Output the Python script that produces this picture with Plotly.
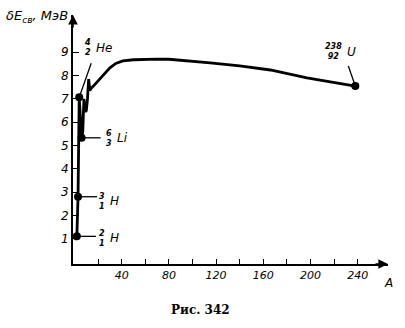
import plotly.graph_objects as go

# ---- data ----
A_curve = [2, 3, 4, 5, 6, 7, 8, 9, 10, 11, 12, 13, 14, 16, 20, 26, 30, 35, 41, 50, 60, 70, 80, 100, 115, 140, 166, 197, 220, 238]
E_curve = [1.1, 2.8, 7.07, 6.0, 5.33, 5.6, 7.0, 6.45, 6.5, 7.0, 7.85, 7.35, 7.45, 7.55, 7.78, 8.1, 8.33, 8.52, 8.63, 8.68, 8.71, 8.71, 8.7, 8.63, 8.55, 8.42, 8.24, 7.9, 7.72, 7.55]

nuc_A = [2, 3, 4, 6, 238]
nuc_E = [1.1, 2.8, 7.07, 5.33, 7.55]
nuc_mass = ["2", "3", "4", "6", "238"]
nuc_charge = ["1", "1", "2", "3", "92"]
nuc_sym = ["H", "H", "He", "Li", "U"]

x_ticks = [20, 40, 60, 80, 100, 120, 140, 160, 180, 200, 220, 240]
x_labels = ["", "40", "", "80", "", "120", "", "160", "", "200", "", "240"]
y_ticks = [1, 2, 3, 4, 5, 6, 7, 8, 9]

# ---- layout geometry (pixels) ----
W, H = 405, 328
L, R, T, B = 73, 17, 15, 64
PW, PH = W - L - R, H - T - B

def pxx(x):
    return (x - L) / PW

def pyy(y):
    return (H - B - y) / PH

FONT = "DejaVu Sans"

fig = go.Figure()
fig.add_trace(go.Scatter(x=A_curve, y=E_curve, mode="lines",
                         line=dict(color="black", width=2.8), hoverinfo="skip"))
fig.add_trace(go.Scatter(x=nuc_A, y=nuc_E, mode="markers",
                         marker=dict(color="black", size=8), hoverinfo="skip"))

ann = []
shapes = []
# label positions (pixels) and pointer-line offsets (pixels, from the point)
lab_pos = {
    "2": (107, 238),
    "3": (107, 201),
    "4": (93, 48),
    "6": (114, 138),
    "238": (344, 52),
}
line_off = {
    "2": (19, 0),
    "3": (19, 0),
    "4": (12, -34),
    "6": (19, 0),
    "238": (-7, -20),
}
for A, E, m, z, s in zip(nuc_A, nuc_E, nuc_mass, nuc_charge, nuc_sym):
    lx, ly = lab_pos[m]
    ox, oy = line_off[m]
    shapes.append(dict(type="line", xref="x", yref="y",
                       xsizemode="pixel", ysizemode="pixel",
                       xanchor=A, yanchor=E,
                       x0=0, y0=0, x1=ox, y1=-oy,
                       line=dict(color="black", width=1.3)))
    ann.append(dict(x=pxx(lx), y=pyy(ly), xref="paper", yref="paper",
                    text=f"{m}<br>{z}", showarrow=False,
                    xanchor="right", yanchor="middle",
                    font=dict(family=FONT, size=8, color="black", style="italic", weight="bold"),
                    align="center"))
    ann.append(dict(x=pxx(lx + 1), y=pyy(ly), xref="paper", yref="paper",
                    text=s, showarrow=False, xanchor="left", yanchor="middle",
                    font=dict(family=FONT, size=12, color="black", style="italic")))

# axis arrowheads
ann.append(dict(x=0, y=1, xref="paper", yref="paper", ax=0, ay=14, text="",
                showarrow=True, arrowhead=2, arrowsize=1.2, arrowwidth=1.6, arrowcolor="black"))
ann.append(dict(x=1, y=0, xref="paper", yref="paper", ax=-14, ay=0, text="",
                showarrow=True, arrowhead=2, arrowsize=1.2, arrowwidth=1.6, arrowcolor="black"))

# axis titles and caption
ann.append(dict(x=pxx(4), y=pyy(16), xref="paper", yref="paper",
                xanchor="left", yanchor="middle",
                text="δE<sub>св</sub>, МэВ", showarrow=False,
                font=dict(family=FONT, size=13, color="black", style="italic")))
ann.append(dict(x=pxx(388), y=pyy(283), xref="paper", yref="paper",
                xanchor="center", yanchor="middle",
                text="A", showarrow=False,
                font=dict(family=FONT, size=12, color="black", style="italic")))
ann.append(dict(x=pxx(200), y=pyy(310), xref="paper", yref="paper",
                xanchor="center", yanchor="middle",
                text="<b>Рис. 342</b>", showarrow=False,
                font=dict(family="DejaVu Serif", size=12, color="black")))

fig.update_layout(
    width=W, height=H,
    margin=dict(l=L, r=R, t=T, b=B, pad=0),
    paper_bgcolor="white", plot_bgcolor="white",
    showlegend=False,
    annotations=ann,
    shapes=shapes,
    xaxis=dict(range=[-1.27, 265.7], tickvals=x_ticks, ticktext=x_labels,
               ticks="inside", ticklen=5, tickwidth=1.3, tickcolor="black",
               showline=True, linewidth=2, linecolor="black",
               showgrid=False, zeroline=False,
               tickfont=dict(family=FONT, size=11, color="black", style="italic")),
    yaxis=dict(range=[-0.086, 10.6], tickvals=y_ticks,
               ticks="inside", ticklen=6, tickwidth=1.3, tickcolor="black",
               showline=True, linewidth=2, linecolor="black",
               showgrid=False, zeroline=False,
               tickfont=dict(family=FONT, size=12, color="black", style="italic")),
)

fig.write_html("out.html")
